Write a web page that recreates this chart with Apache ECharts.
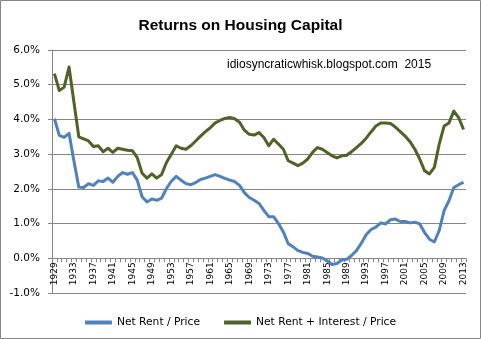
<!DOCTYPE html>
<html>
<head>
<meta charset="utf-8">
<script src="https://cdn.jsdelivr.net/npm/echarts@6/dist/echarts.min.js"></script>
<style>
html,body{margin:0;padding:0;background:#fff;}
#c{width:481px;height:339px;}
</style>
</head>
<body>
<div id="c"></div>
<script>
var years = ['1929','1930','1931','1932','1933','1934','1935','1936','1937','1938','1939','1940','1941','1942','1943','1944','1945','1946','1947','1948','1949','1950','1951','1952','1953','1954','1955','1956','1957','1958','1959','1960','1961','1962','1963','1964','1965','1966','1967','1968','1969','1970','1971','1972','1973','1974','1975','1976','1977','1978','1979','1980','1981','1982','1983','1984','1985','1986','1987','1988','1989','1990','1991','1992','1993','1994','1995','1996','1997','1998','1999','2000','2001','2002','2003','2004','2005','2006','2007','2008','2009','2010','2011','2012','2013'];

var netRent = [4.02,3.54,3.48,3.60,2.80,2.05,2.04,2.15,2.10,2.23,2.21,2.31,2.19,2.36,2.47,2.42,2.47,2.25,1.77,1.62,1.71,1.67,1.73,2.01,2.22,2.36,2.25,2.15,2.12,2.18,2.27,2.31,2.36,2.41,2.36,2.30,2.25,2.21,2.10,1.89,1.75,1.67,1.58,1.38,1.20,1.20,1.00,0.76,0.42,0.33,0.22,0.17,0.14,0.06,0.04,0.01,-0.07,-0.18,-0.15,-0.05,-0.03,0.08,0.22,0.43,0.68,0.83,0.90,1.02,0.99,1.11,1.13,1.06,1.06,1.02,1.04,0.99,0.74,0.55,0.47,0.80,1.37,1.66,2.04,2.12,2.19];

var netRentInterest = [5.32,4.83,4.93,5.51,4.50,3.50,3.44,3.38,3.22,3.24,3.07,3.17,3.05,3.17,3.14,3.11,3.10,2.90,2.45,2.31,2.43,2.31,2.41,2.76,3.00,3.24,3.17,3.14,3.24,3.38,3.52,3.65,3.76,3.90,3.97,4.03,4.06,4.02,3.92,3.69,3.57,3.55,3.62,3.48,3.24,3.43,3.29,3.14,2.81,2.74,2.67,2.74,2.86,3.05,3.19,3.14,3.05,2.95,2.89,2.95,2.97,3.07,3.19,3.31,3.46,3.64,3.81,3.90,3.90,3.88,3.78,3.65,3.52,3.36,3.14,2.86,2.52,2.43,2.62,3.29,3.81,3.90,4.24,4.05,3.71];

var seriesNames = ['Net Rent / Price', 'Net Rent + Interest / Price'];
var titleText = 'Returns on Housing Capital';
var noteText = 'idiosyncraticwhisk.blogspot.com  2015';

var yMin = -1, yMax = 6;
var gridTop = 50, gridBottom = 46, chartH = 339;
var plotH = chartH - gridTop - gridBottom;
// distance from bottom edge of plot to the 0% line, so the category axis sits on zero
var zeroOffset = -plotH * (0 - yMin) / (yMax - yMin);

var chart = echarts.init(document.getElementById('c'), null, {renderer:'canvas'});
var gray = '#868686';
var font = 'DejaVu Sans';
chart.setOption({
  animation: false,
  backgroundColor: '#fff',
  title: {
    text: titleText, left: 'center', top: 13,
    textStyle: {fontFamily: 'Liberation Sans', fontSize: 15.5, fontWeight: 'bold', color: '#000'}
  },
  graphic: [
    {type:'rect', shape:{x:0.5,y:0.5,width:480,height:338}, style:{fill:'none', stroke:gray, lineWidth:1}, silent:true},
    {type:'text', left:227, top:59, style:{text: noteText, fontFamily:'Liberation Sans', fontSize:12, fill:'#000'}}
  ],
  grid: {left:52, right:15, top:gridTop, bottom:gridBottom},
  legend: {
    top: 312, left: 'center', icon: 'rect', itemWidth: 27, itemHeight: 4, itemGap: 24,
    textStyle: {fontFamily: font, fontSize: 10.7, color: '#000'},
    data: seriesNames
  },
  xAxis: {
    type: 'category', data: years, boundaryGap: true, position: 'bottom', offset: zeroOffset,
    axisLine: {onZero: false, lineStyle: {color: gray, width: 1}},
    axisTick: {show: true, interval: 0, length: 4, lineStyle: {color: gray}},
    axisLabel: {interval: 3, rotate: 90, fontFamily: font, fontSize: 9, color: '#000', margin: 4},
    splitLine: {show: false}
  },
  yAxis: {
    type: 'value', min: yMin, max: yMax, interval: 1,
    axisLine: {show: true, lineStyle: {color: gray, width: 1}},
    axisTick: {show: true, length: 4, lineStyle: {color: gray}},
    axisLabel: {fontFamily: font, fontSize: 10.5, color: '#000', margin: 12,
      formatter: function(v){ return v.toFixed(1) + '%'; }},
    splitLine: {show: true, lineStyle: {color: gray, width: 1}}
  },
  series: [
    {name: seriesNames[0], type: 'line', data: netRent, symbol: 'none',
     lineStyle: {color: '#4F81BD', width: 3, join: 'round'}, itemStyle: {color: '#4F81BD'}},
    {name: seriesNames[1], type: 'line', data: netRentInterest, symbol: 'none',
     lineStyle: {color: '#4F6228', width: 3, join: 'round'}, itemStyle: {color: '#4F6228'}}
  ]
});
</script>
</body>
</html>
